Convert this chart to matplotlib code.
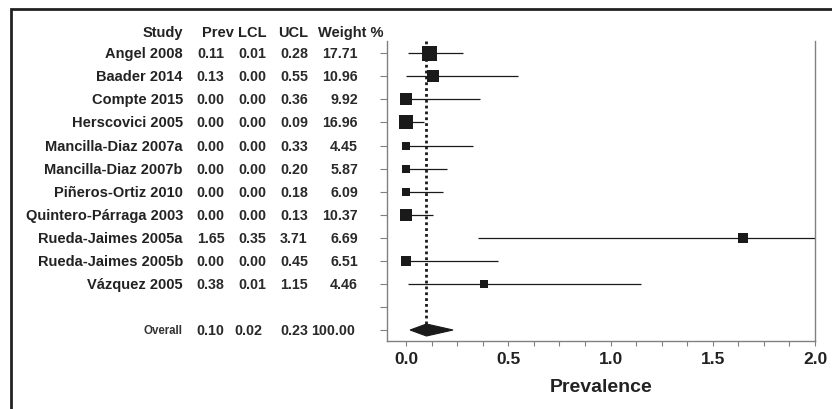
import matplotlib
matplotlib.use("Agg")
import matplotlib.pyplot as plt
import matplotlib.transforms as mtransforms
from matplotlib.patches import Polygon, Rectangle
import numpy as np

studies = ["Angel 2008", "Baader 2014", "Compte 2015", "Herscovici 2005",
           "Mancilla-Diaz 2007a", "Mancilla-Diaz 2007b", "Piñeros-Ortiz 2010",
           "Quintero-Párraga 2003", "Rueda-Jaimes 2005a", "Rueda-Jaimes 2005b",
           "Vázquez 2005"]
prev = [0.11, 0.13, 0.00, 0.00, 0.00, 0.00, 0.00, 0.00, 1.65, 0.00, 0.38]
lcl = [0.01, 0.00, 0.00, 0.00, 0.00, 0.00, 0.00, 0.00, 0.35, 0.00, 0.01]
ucl = [0.28, 0.55, 0.36, 0.09, 0.33, 0.20, 0.18, 0.13, 3.71, 0.45, 1.15]
weight = [17.71, 10.96, 9.92, 16.96, 4.45, 5.87, 6.09, 10.37, 6.69, 6.51, 4.46]
overall_label = "Overall"
overall_prev, overall_lcl, overall_ucl, overall_weight = 0.10, 0.02, 0.23, 100.00
headers = ["Study", "Prev", "LCL", "UCL", "Weight %"]
xticks = [0.0, 0.5, 1.0, 1.5, 2.0]
xlabel = "Prevalence"

W, H = 832, 410
fig = plt.figure(figsize=(W / 100, H / 100), dpi=100)
fig.patch.set_facecolor("white")

# axes placement (pixels)
axL, axR, axT, axB = 387, 815, 42, 342
ax = fig.add_axes([axL / W, 1 - axB / H, (axR - axL) / W, (axB - axT) / H])

n = len(studies)
rows = np.arange(1, n + 1)
overall_row = n + 2
ax.set_xlim(-0.093, 2.0)
ax.set_ylim(overall_row + 0.477, 0.467)

black = "#1a1a1a"
spine_col = "#808080"

# CI lines
for r, lo, hi in zip(rows, lcl, ucl):
    ax.plot([lo, hi], [r, r], color=black, lw=0.9, solid_capstyle="butt", zorder=2)

# squares, area proportional to weight
max_side = 15.0  # px for the largest weight
wmax = max(weight)
for r, p, w in zip(rows, prev, weight):
    side = max_side * np.sqrt(w / wmax)
    ax.plot([p], [r], marker="s", ms=side * 0.72, color=black, mec=black, mew=0, zorder=3)

# diamond for overall
dh = 0.26
diamond = Polygon([[overall_lcl, overall_row], [overall_prev, overall_row - dh],
                   [overall_ucl, overall_row], [overall_prev, overall_row + dh]],
                  closed=True, fc=black, ec=black, lw=0.8, zorder=3)
ax.add_patch(diamond)

# dotted line at overall estimate
ax.plot([overall_prev, overall_prev], [0.467, overall_row], color=black, lw=2.0,
        ls=(0, (1, 1.1)), zorder=4)

# spines
ax.spines["top"].set_visible(False)
for s in ["left", "right", "bottom"]:
    ax.spines[s].set_color(spine_col)
    ax.spines[s].set_linewidth(1.0)

ax.set_yticks(list(rows) + [n + 1, overall_row])
ax.set_yticklabels([])
ax.tick_params(axis="y", length=5, color=spine_col, width=0.8)
ax.set_xticks(xticks)
ax.set_xticklabels([f"{v:.1f}" for v in xticks])
ax.set_xticks(np.arange(0.125, 2.0, 0.125), minor=True)
ax.tick_params(axis="x", which="both", length=3.5, color=spine_col, width=0.8, direction="out",
               pad=4)
for lab in ax.get_xticklabels():
    lab.set_fontfamily("Liberation Sans")
    lab.set_fontweight("bold")
    lab.set_fontsize(12.5)
    lab.set_color("#222222")
ax.set_xlabel(xlabel, fontfamily="Liberation Sans", fontweight="bold", fontsize=14,
              color="#222222", labelpad=8)

# table text
trans = mtransforms.blended_transform_factory(fig.transFigure, ax.transData)
lab_font = dict(family="Liberation Sans", weight="bold", size=10.5, color="#222222")
num_font = dict(family="Liberation Sans", weight="bold", size=10.3, color="#2a2a2a")


def fx(px):
    return px / W


hdr_y = 0.08
ax.text(fx(183), hdr_y, headers[0], transform=trans, ha="right", va="center", clip_on=False, **lab_font)
ax.text(fx(218), hdr_y, headers[1], transform=trans, ha="center", va="center", clip_on=False, **lab_font)
ax.text(fx(252), hdr_y, headers[2], transform=trans, ha="center", va="center", clip_on=False, **lab_font)
ax.text(fx(293), hdr_y, headers[3], transform=trans, ha="center", va="center", clip_on=False, **lab_font)
ax.text(fx(318), hdr_y, headers[4], transform=trans, ha="left", va="center", clip_on=False, **lab_font)

for r, s, p, lo, hi, w in zip(rows, studies, prev, lcl, ucl, weight):
    ax.text(fx(183), r, s, transform=trans, ha="right", va="center", clip_on=False, **lab_font)
    ax.text(fx(210.5), r, f"{p:.2f}", transform=trans, ha="center", va="center", clip_on=False, **num_font)
    ax.text(fx(252), r, f"{lo:.2f}", transform=trans, ha="center", va="center", clip_on=False, **num_font)
    ax.text(fx(294), r, f"{hi:.2f}", transform=trans, ha="center", va="center", clip_on=False, **num_font)
    ax.text(fx(358), r, f"{w:.2f}", transform=trans, ha="right", va="center", clip_on=False, **num_font)

r = overall_row
ax.text(fx(183), r, overall_label, transform=trans, ha="right", va="center", clip_on=False,
        family="Liberation Sans", weight="bold", size=8.3, color="#333333")
ax.text(fx(210.5), r, f"{overall_prev:.2f}", transform=trans, ha="center", va="center", clip_on=False, **num_font)
ax.text(fx(248), r, f"{overall_lcl:.2f}", transform=trans, ha="center", va="center", clip_on=False, **num_font)
ax.text(fx(294), r, f"{overall_ucl:.2f}", transform=trans, ha="center", va="center", clip_on=False, **num_font)
ax.text(fx(355), r, f"{overall_weight:.2f}", transform=trans, ha="right", va="center", clip_on=False, **num_font)

# outer frame (top and left visible, extends beyond image)
frame = Rectangle((10.5 / W, -0.1), 1.2, 1.1 - 9.5 / H, transform=fig.transFigure,
                  fill=False, ec="#222222", lw=2.0, clip_on=False)
fig.add_artist(frame)

fig.savefig("out.png", dpi=100, facecolor="white")
